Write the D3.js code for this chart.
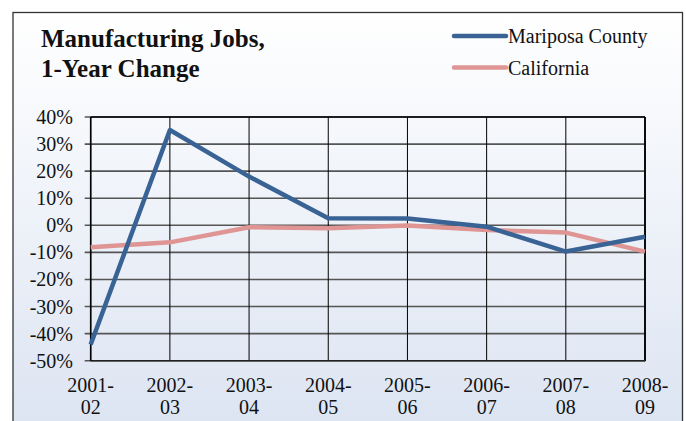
<!DOCTYPE html>
<html><head><meta charset="utf-8">
<script src="https://cdn.jsdelivr.net/npm/d3@7"></script>
<style>body{margin:0;background:#fff}svg{display:block}</style>
</head><body>
<script>
const categories = [["2001-","02"],["2002-","03"],["2003-","04"],["2004-","05"],["2005-","06"],["2006-","07"],["2007-","08"],["2008-","09"]];
const mariposa = [-44, 35.2, 18, 2.6, 2.5, -0.5, -9.7, -4.2];
const california = [-8.1, -6.3, -0.7, -1.1, -0.1, -1.7, -2.7, -9.7];
const yTicks = [40,30,20,10,0,-10,-20,-30,-40,-50];
const seriesNames = ["Mariposa County","California"];

const FONT='"Liberation Serif"';
const W=686,H=421;
const svg=d3.select("body").append("svg").attr("width",W).attr("height",H);
const defs=svg.append("defs");
const g=defs.append("linearGradient").attr("id","bg").attr("x1",0).attr("y1",0).attr("x2",0).attr("y2",1);
g.append("stop").attr("offset","0%").attr("stop-color","#ffffff");
g.append("stop").attr("offset","100%").attr("stop-color","#dce4f2");
svg.append("rect").attr("x",13).attr("y",12.5).attr("width",669.5).attr("height",420).attr("fill","url(#bg)").attr("stroke","#333").attr("stroke-width",1.3);

const L=90.7,R=645,T=117,B=360.7;
const x=d3.scalePoint().domain(d3.range(categories.length)).range([L,R]);
const y=d3.scaleLinear().domain([-50,40]).range([B,T]);

svg.append("g").selectAll("line").data(yTicks).join("line")
  .attr("x1",L-6).attr("x2",R).attr("y1",d=>y(d)).attr("y2",d=>y(d))
  .attr("stroke","#555").attr("stroke-width",1.6);
svg.append("g").selectAll("line").data(d3.range(categories.length)).join("line")
  .attr("x1",d=>x(d)).attr("x2",d=>x(d)).attr("y1",T).attr("y2",B)
  .attr("stroke","#000").attr("stroke-width",1);
svg.append("line").attr("x1",R).attr("x2",R).attr("y1",T).attr("y2",B+0.5).attr("stroke","#000").attr("stroke-width",1.8);
svg.append("line").attr("x1",L).attr("x2",R).attr("y1",B).attr("y2",B).attr("stroke","#222").attr("stroke-width",1.6);
svg.append("line").attr("x1",L).attr("x2",L).attr("y1",T).attr("y2",B).attr("stroke","#000").attr("stroke-width",1.6);
svg.append("line").attr("x1",L).attr("x2",R).attr("y1",T).attr("y2",T).attr("stroke","#000").attr("stroke-width",1.6);

svg.append("g").selectAll("text").data(yTicks).join("text")
  .attr("x",73).attr("y",d=>y(d)+7).attr("text-anchor","end")
  .style("font-family",FONT).style("font-size","20px").attr("fill","#111")
  .text(d=>d+"%");
const xl=svg.append("g").selectAll("text").data(categories).join("text")
  .attr("text-anchor","middle").style("font-family",FONT).style("font-size","20px").attr("fill","#111");
xl.append("tspan").attr("x",(d,i)=>x(i)).attr("y",392).text(d=>d[0]);
xl.append("tspan").attr("x",(d,i)=>x(i)).attr("y",414).text(d=>d[1]);

const line=d3.line().x((d,i)=>x(i)).y(d=>y(d));
const colors=["#396395","#de9593"];
svg.append("path").datum(california).attr("d",line).attr("fill","none").attr("stroke",colors[1]).attr("stroke-width",4.5).attr("stroke-linejoin","round");
svg.append("path").datum(mariposa).attr("d",line).attr("fill","none").attr("stroke",colors[0]).attr("stroke-width",4.5).attr("stroke-linejoin","round");

const t=svg.append("text").style("font-family",FONT).style("font-weight","bold").style("font-size","25px").attr("fill","#111");
t.append("tspan").attr("x",41).attr("y",47).text("Manufacturing Jobs,");
t.append("tspan").attr("x",41).attr("y",77).text("1-Year Change");

const leg=svg.append("g").selectAll("g").data(seriesNames).join("g").attr("transform",(d,i)=>`translate(0,${36+i*31.5})`);
leg.append("line").attr("x1",454).attr("x2",506).attr("stroke",(d,i)=>colors[i]).attr("stroke-width",4.5).attr("stroke-linecap","round");
leg.append("text").attr("x",508).attr("y",7).style("font-family",FONT).style("font-size","20px").attr("fill","#111").text(d=>d);
</script>
</body></html>
